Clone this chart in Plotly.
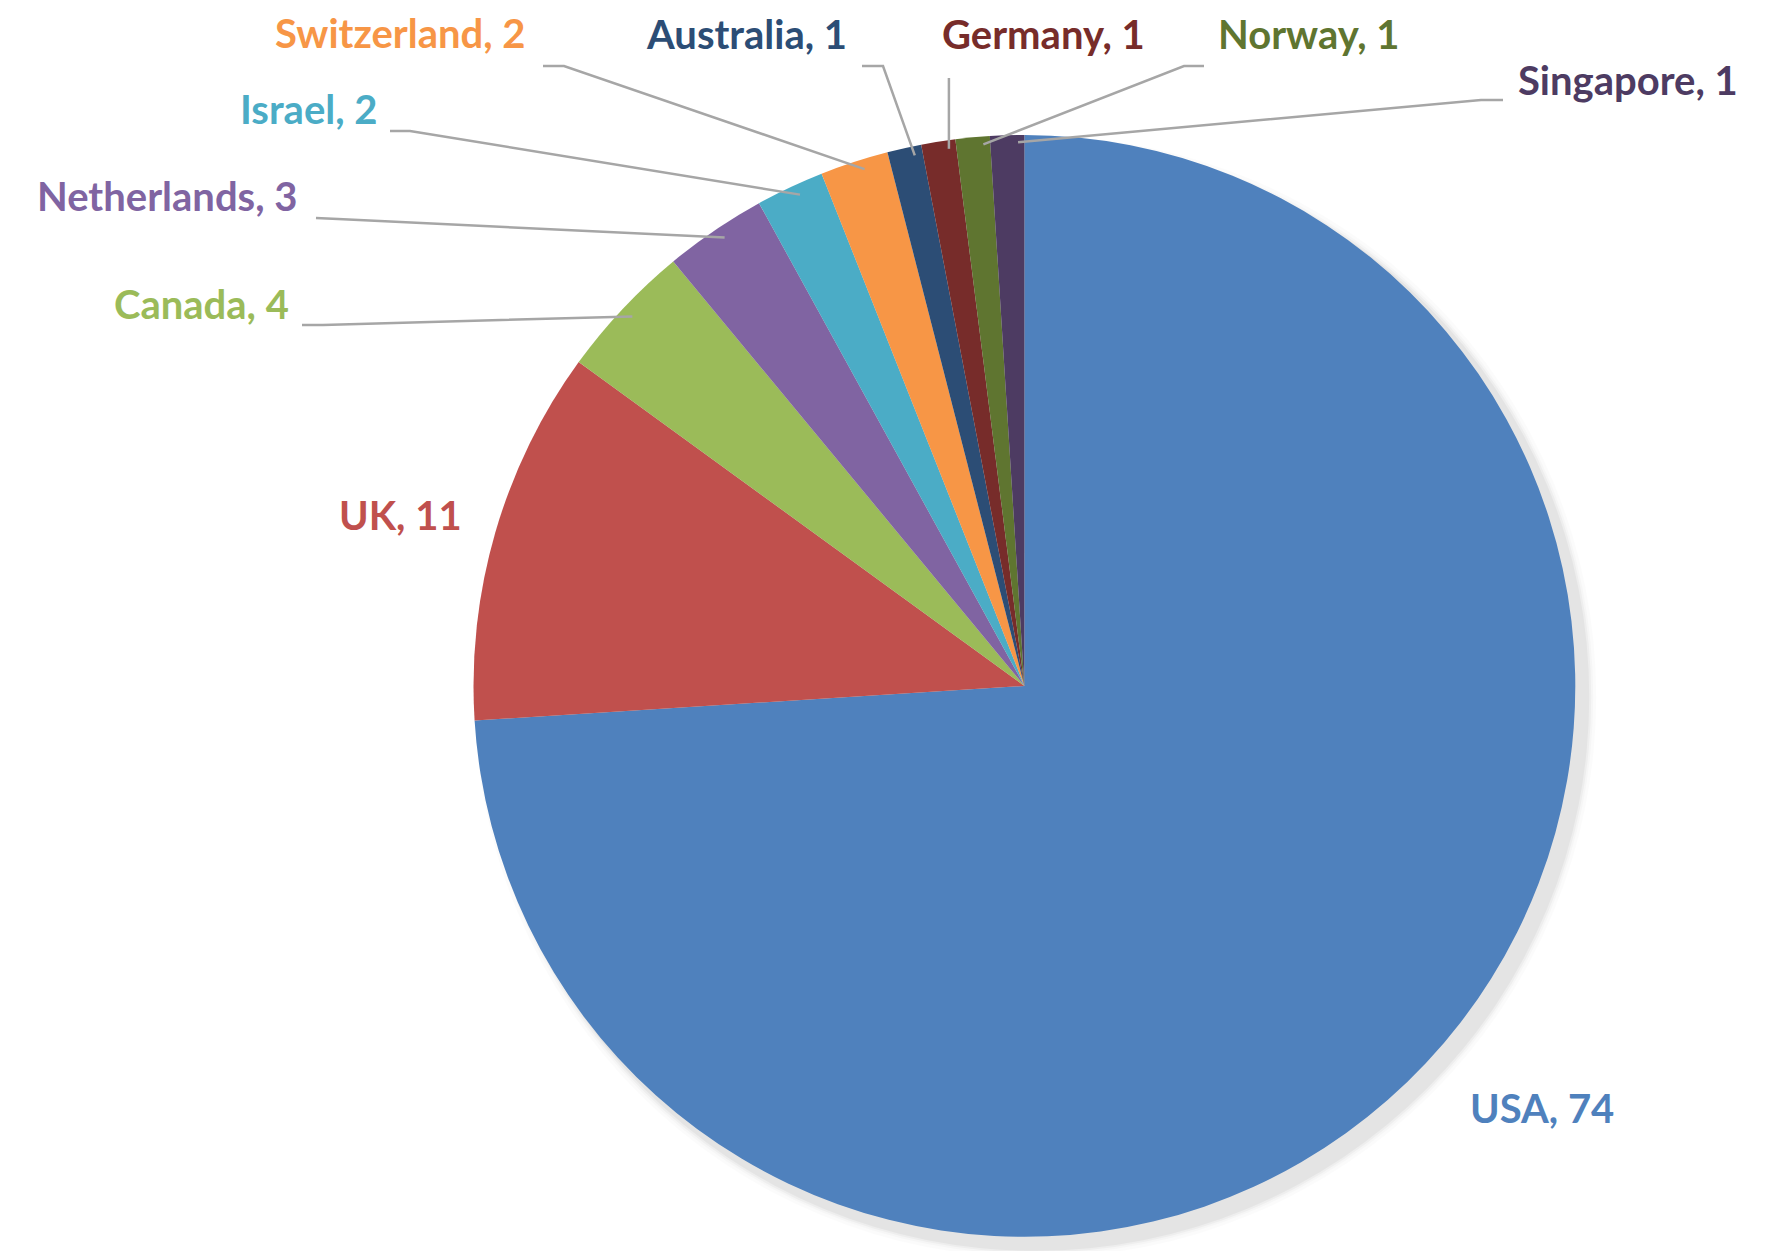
#%%
import math
import plotly.graph_objects as go

# Data: number of entries per country
countries = ['USA', 'UK', 'Canada', 'Netherlands', 'Israel', 'Switzerland',
             'Australia', 'Germany', 'Norway', 'Singapore']
counts = [74, 11, 4, 3, 2, 2, 1, 1, 1, 1]

# Office-style slice colours
slice_colors = ['#4F81BD', '#C0504D', '#9BBB59', '#8064A2', '#4BACC6',
                '#F79646', '#2C4D75', '#772C2A', '#5F7530', '#4D3B62']

#%%
# Canvas / pie geometry in pixels
W, H = 1771, 1251
cx, cy, r = 1027.4, 686.9, 552.9
# plotly draws the pie a few px right/down of the domain centre, compensate
dom_dx, dom_dy, dom_dr = -11, -9, -2

def px(x, y):
    # pixel -> paper coordinates
    return x / W, 1 - y / H

# label centre (pixels) and the start of its leader line (stub start, elbow)
label_pos = {
    'USA': (1534, 1100, None),
    'UK': (392, 507, None),
    'Canada': (193, 296, [(294, 317), (315, 317)]),
    'Netherlands': (159, 188, [(308, 210), (330, 211)]),
    'Israel': (300, 101, [(382, 123), (402, 123)]),
    'Switzerland': (392, 25, [(535, 58), (556, 58)]),
    'Australia': (738, 26, [(854, 58), (875, 58)]),
    'Germany': (1035, 26, 'vertical'),
    'Norway': (1301, 26, [(1196, 58), (1176, 58)]),
    'Singapore': (1620, 72, [(1495, 92), (1473, 92)]),
}

total = sum(counts)

dcx, dcy, dr = cx + dom_dx, cy + dom_dy, r + dom_dr
fig = go.Figure()
fig.add_trace(go.Pie(
    labels=countries,
    values=counts,
    sort=False,
    direction='clockwise',
    rotation=0,
    marker=dict(colors=slice_colors, line=dict(width=0)),
    textinfo='none',
    hoverinfo='label+value',
    showlegend=False,
    domain=dict(x=[(dcx - dr) / W, (dcx + dr) / W],
                y=[1 - (dcy + dr) / H, 1 - (dcy - dr) / H]),
))

# soft shadow behind the pie
shapes = []
for grow, alpha in [(8, 0.015), (5, 0.02), (3, 0.03), (1, 0.04)]:
    ox, oy = 0, 2
    x0, y1 = px(cx - r - grow + ox, cy - r - grow + oy)
    x1, y0 = px(cx + r + grow + ox, cy + r + grow + oy)
    shapes.append(dict(type='circle', xref='paper', yref='paper',
                       x0=x0, x1=x1, y0=y0, y1=y1, layer='below',
                       fillcolor=f'rgba(0,0,0,{alpha})', line=dict(width=0)))

annotations = []
cum = 0
for name, val, col in zip(countries, counts, slice_colors):
    mid = (cum + val / 2) / total * 2 * math.pi
    cum += val
    sx = cx + r * math.sin(mid)
    sy = cy - r * math.cos(mid)
    lx, ly, lead = label_pos[name]
    ax, ay = px(lx, ly)
    annotations.append(dict(
        x=ax, y=ay, xref='paper', yref='paper', showarrow=False,
        text=f'{name}, {val}', xanchor='center', yanchor='middle',
        font=dict(family='Lato', size=40, color=col, weight='bold'),
    ))
    if lead is None:
        continue
    if lead == 'vertical':
        pts = [(sx, 70), (sx, sy)]
    else:
        pts = lead + [(sx, sy)]
    path = 'M ' + ' L '.join(f'{px(x, y)[0]:.5f},{px(x, y)[1]:.5f}' for x, y in pts)
    shapes.append(dict(type='path', xref='paper', yref='paper', path=path,
                       line=dict(color='#A6A6A6', width=2.5)))

fig.update_layout(
    width=W, height=H,
    margin=dict(l=0, r=0, t=0, b=0),
    paper_bgcolor='white',
    plot_bgcolor='white',
    shapes=shapes,
    annotations=annotations,
)

fig.write_html('out.html')
